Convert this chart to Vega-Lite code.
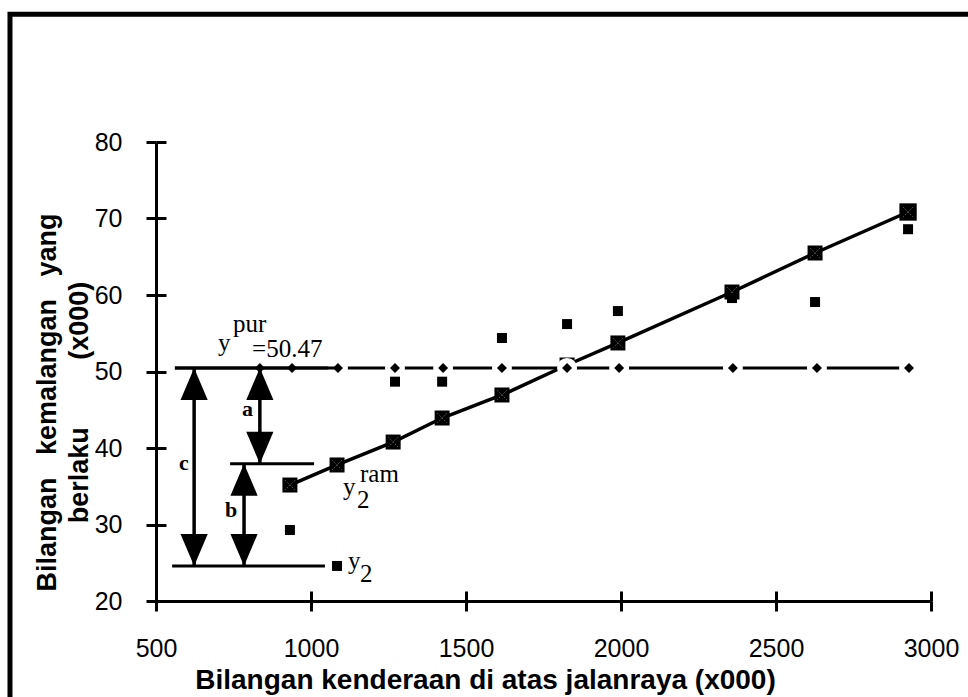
{
  "$schema": "https://vega.github.io/schema/vega-lite/v6.json",
  "width": 775,
  "height": 459,
  "autosize": {"type": "none"},
  "padding": {"left": 156, "top": 142, "right": 37, "bottom": 96},
  "background": "white",
  "config": {"view": {"stroke": null}},
  "datasets": {
    "reg": [
      {"x": 932, "y": 35.16}, {"x": 1084, "y": 37.78}, {"x": 1265, "y": 40.78},
      {"x": 1423, "y": 43.92}, {"x": 1616, "y": 46.93}, {"x": 1826, "y": 50.85},
      {"x": 1990, "y": 53.73}, {"x": 2358, "y": 60.39}, {"x": 2626, "y": 65.49},
      {"x": 2926, "y": 70.85}
    ],
    "obs": [
      {"x": 932, "y": 29.28}, {"x": 1084, "y": 24.58}, {"x": 1271, "y": 48.67},
      {"x": 1423, "y": 48.67}, {"x": 1616, "y": 54.38}, {"x": 1826, "y": 56.2},
      {"x": 1990, "y": 57.9}, {"x": 2358, "y": 59.6}, {"x": 2626, "y": 59.08},
      {"x": 2926, "y": 68.6}
    ],
    "pur": [
      {"x": 835, "y": 50.47}, {"x": 939, "y": 50.47}, {"x": 1087, "y": 50.47},
      {"x": 1271, "y": 50.47}, {"x": 1426, "y": 50.47}, {"x": 1616, "y": 50.47},
      {"x": 1826, "y": 50.47}, {"x": 1994, "y": 50.47}, {"x": 2361, "y": 50.47},
      {"x": 2632, "y": 50.47}, {"x": 2929, "y": 50.47}
    ],
    "purline": [
      {"x": 561, "y": 50.47}, {"x": 1087, "y": 50.47}, {"x": 2929, "y": 50.47}
    ],
    "hlines": [
      {"x": 739, "x2": 1010, "y": 37.95},
      {"x": 552, "x2": 1045, "y": 24.58}
    ],
    "arrows": [
      {"x": 623, "y": 50.47, "y2": 24.58},
      {"x": 835, "y": 50.47, "y2": 37.95},
      {"x": 784, "y": 37.95, "y2": 24.58}
    ],
    "heads": [
      {"x": 623, "y": 50.47, "dir": "up"}, {"x": 623, "y": 24.58, "dir": "down"},
      {"x": 835, "y": 50.47, "dir": "up"}, {"x": 835, "y": 37.95, "dir": "down"},
      {"x": 784, "y": 37.95, "dir": "up"}, {"x": 784, "y": 24.58, "dir": "down"}
    ],
    "sym": [
      {"t": "y", "x": 700, "y": 52.68}, {"t": "pur", "x": 748, "y": 55.16},
      {"t": "=50.47", "x": 810, "y": 51.9},
      {"t": "y", "x": 1103, "y": 33.86}, {"t": "2", "x": 1148, "y": 32.16},
      {"t": "ram", "x": 1158, "y": 35.56},
      {"t": "y", "x": 1119, "y": 24.18}, {"t": "2", "x": 1158, "y": 22.48}
    ],
    "abc": [
      {"t": "a", "x": 795, "y": 45.1}, {"t": "b", "x": 742, "y": 31.9},
      {"t": "c", "x": 590, "y": 38.1}
    ]
  },
  "resolve": {"axis": {"x": "independent", "y": "independent"}},
  "layer": [
    {
      "data": {"values": [{}]},
      "mark": {"type": "rect", "fillOpacity": 0, "stroke": "black", "strokeWidth": 5},
      "encoding": {
        "x": {"datum": 29, "type": "quantitative", "scale": {"domain": [500, 3000], "nice": false, "zero": false}, "axis": null},
        "x2": {"datum": 3400},
        "y": {"datum": 96.7, "type": "quantitative", "scale": {"domain": [20, 80], "nice": false, "zero": false}, "axis": null},
        "y2": {"datum": -2}
      }
    },
    {
      "data": {"name": "reg"},
      "mark": {"type": "line", "color": "black", "strokeWidth": 3.5},
      "encoding": {
        "x": {"field": "x", "type": "quantitative", "scale": {"domain": [500, 3000], "nice": false, "zero": false},
          "axis": {"orient": "bottom", "values": [500, 1000, 1500, 2000, 2500, 3000], "format": "d", "grid": false,
            "domainColor": "black", "domainWidth": 3, "tickColor": "black", "tickWidth": 3, "tickSize": 10,
            "labelFont": "Liberation Sans", "labelFontSize": 25, "labelColor": "black", "labelPadding": 25, "labelDx": -8,
            "labelFlush": false, "labelOverlap": false, "labelBound": false,
            "title": "Bilangan kenderaan di atas jalanraya (x000)", "titleFont": "Liberation Sans", "titleFontSize": 28,
            "titleFontWeight": "bold", "titleColor": "black", "titleX": 329, "titleY": 87, "titleAlign": "center",
            "titleBaseline": "alphabetic"}},
        "y": {"field": "y", "type": "quantitative", "scale": {"domain": [20, 80], "nice": false, "zero": false},
          "axis": {"orient": "left", "values": [20, 30, 40, 50, 60, 70, 80], "format": "d", "grid": false,
            "domainColor": "black", "domainWidth": 3, "tickColor": "black", "tickWidth": 3, "tickSize": 10,
            "labelFont": "Liberation Sans", "labelFontSize": 25, "labelColor": "black", "labelPadding": 24,
            "labelFlush": false, "labelOverlap": false, "labelBound": false,
            "title": ["Bilangan\u00a0\u00a0\u00a0kemalangan\u00a0\u00a0\u00a0yang", "berlaku\u00a0\u00a0\u00a0\u00a0\u00a0\u00a0\u00a0\u00a0\u00a0(x000)"],
            "titleFont": "Liberation Sans", "titleFontSize": 27, "titleFontWeight": "bold", "titleColor": "black",
            "titleAngle": 270, "titleX": -101, "titleY": 260, "titleAlign": "center", "titleBaseline": "alphabetic",
            "titleLineHeight": 32}}
      }
    },
    {
      "data": {"name": "reg"},
      "mark": {"type": "point", "shape": "square", "filled": true, "color": "black", "opacity": 1},
      "encoding": {
        "x": {"field": "x", "type": "quantitative", "scale": {"domain": [500, 3000], "nice": false, "zero": false},
          "axis": {"orient": "bottom", "values": [500, 1000, 1500, 2000, 2500, 3000], "grid": false, "domain": false,
            "labels": false, "title": null, "tickColor": "black", "tickWidth": 3, "tickSize": -10}},
        "y": {"field": "y", "type": "quantitative", "scale": {"domain": [20, 80], "nice": false, "zero": false},
          "axis": {"orient": "left", "values": [20, 30, 40, 50, 60, 70, 80], "grid": false, "domain": false,
            "labels": false, "title": null, "tickColor": "black", "tickWidth": 3, "tickSize": -10}},
        "size": {"condition": {"test": "datum.x > 2900", "value": 300}, "value": 225}
      }
    },
    {
      "data": {"name": "reg"},
      "mark": {"type": "point", "shape": "M-0.6,-0.6L0.6,0.6M0.6,-0.6L-0.6,0.6", "filled": false, "stroke": "white", "strokeWidth": 1, "strokeDash": [1, 2], "opacity": 0.6, "size": 225},
      "encoding": {
        "x": {"field": "x", "type": "quantitative", "axis": null},
        "y": {"field": "y", "type": "quantitative", "axis": null}
      }
    },
    {
      "data": {"name": "purline"},
      "mark": {"type": "line", "color": "black", "strokeWidth": 3},
      "encoding": {
        "x": {"field": "x", "type": "quantitative", "axis": null},
        "y": {"field": "y", "type": "quantitative", "axis": null}
      }
    },
    {
      "data": {"name": "pur"},
      "transform": [{"filter": "datum.x >= 1087"}],
      "mark": {"type": "point", "shape": "circle", "filled": true, "color": "white", "opacity": 1, "size": 400},
      "encoding": {
        "x": {"field": "x", "type": "quantitative", "axis": null},
        "y": {"field": "y", "type": "quantitative", "axis": null}
      }
    },
    {
      "data": {"name": "purline"},
      "transform": [{"filter": "datum.x <= 1087"}],
      "mark": {"type": "line", "color": "black", "strokeWidth": 3},
      "encoding": {
        "x": {"field": "x", "type": "quantitative", "axis": null},
        "y": {"field": "y", "type": "quantitative", "axis": null}
      }
    },
    {
      "data": {"name": "pur"},
      "mark": {"type": "point", "shape": "diamond", "filled": true, "color": "black", "opacity": 1, "size": 100},
      "encoding": {
        "x": {"field": "x", "type": "quantitative", "axis": null},
        "y": {"field": "y", "type": "quantitative", "axis": null}
      }
    },
    {
      "data": {"name": "obs"},
      "mark": {"type": "point", "shape": "square", "filled": true, "color": "black", "opacity": 1, "size": 100},
      "encoding": {
        "x": {"field": "x", "type": "quantitative", "axis": null},
        "y": {"field": "y", "type": "quantitative", "axis": null}
      }
    },
    {
      "data": {"name": "hlines"},
      "mark": {"type": "rule", "color": "black", "strokeWidth": 3},
      "encoding": {
        "x": {"field": "x", "type": "quantitative", "axis": null},
        "x2": {"field": "x2"},
        "y": {"field": "y", "type": "quantitative", "axis": null}
      }
    },
    {
      "data": {"name": "arrows"},
      "mark": {"type": "rule", "color": "black", "strokeWidth": 3.5},
      "encoding": {
        "x": {"field": "x", "type": "quantitative", "axis": null},
        "y": {"field": "y", "type": "quantitative", "axis": null},
        "y2": {"field": "y2"}
      }
    },
    {
      "data": {"name": "heads"},
      "mark": {"type": "point", "filled": true, "color": "black", "opacity": 1, "size": 1024},
      "encoding": {
        "x": {"field": "x", "type": "quantitative", "axis": null},
        "y": {"field": "y", "type": "quantitative", "axis": null},
        "shape": {"field": "dir", "type": "nominal", "legend": null,
          "scale": {"domain": ["up", "down"], "range": ["M0,0L0.85,2L-0.85,2Z", "M0,0L0.85,-2L-0.85,-2Z"]}}
      }
    },
    {
      "data": {"name": "sym"},
      "mark": {"type": "text", "font": "Liberation Serif", "fontSize": 25, "color": "black", "align": "left", "baseline": "alphabetic"},
      "encoding": {
        "x": {"field": "x", "type": "quantitative", "axis": null},
        "y": {"field": "y", "type": "quantitative", "axis": null},
        "text": {"field": "t"}
      }
    },
    {
      "data": {"name": "abc"},
      "mark": {"type": "text", "font": "Liberation Serif", "fontSize": 22, "fontWeight": "bold", "color": "black", "align": "center", "baseline": "middle"},
      "encoding": {
        "x": {"field": "x", "type": "quantitative", "axis": null},
        "y": {"field": "y", "type": "quantitative", "axis": null},
        "text": {"field": "t"}
      }
    }
  ]
}
